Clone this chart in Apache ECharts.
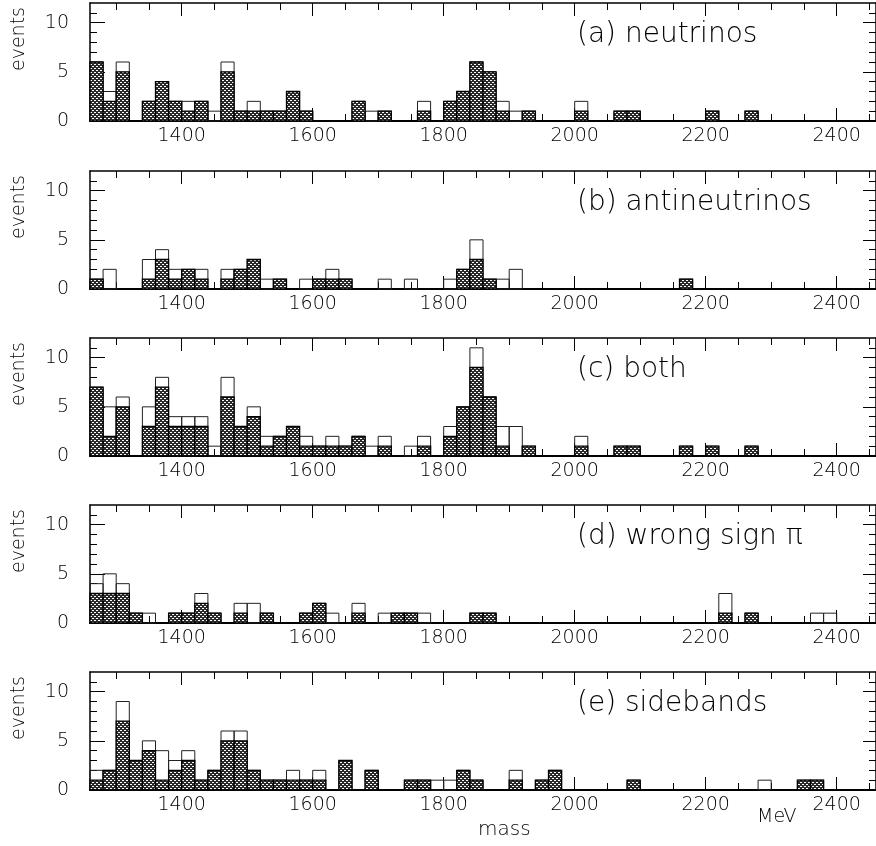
<!DOCTYPE html>
<html>
<head>
<meta charset="utf-8">
<script src="https://cdn.jsdelivr.net/npm/echarts@6/dist/echarts.min.js"></script>
<style>
  html, body { margin: 0; padding: 0; background: #fff; }
  #chart { width: 876px; height: 846px; }
</style>
</head>
<body>
<div id="chart"></div>
<script>
// bins: 20 MeV wide, starting at 1260 MeV (60 bins up to 2460)
const binStart = 1260;
const binWidth = 20;

const panelTitles = ['(a) neutrinos', '(b) antineutrinos', '(c) both', '(d) wrong sign π', '(e) sidebands'];

// hatched = filled part, total = open outline
const hatchA = [6,2,5,0,2,4,2,1,2,0, 5,1,1,1,1,3,1,0,0,0, 2,0,1,0,0,1,0,2,3,6, 5,1,0,1,0,0,0,1,0,0, 1,1,0,0,0,0,0,1,0,0, 1,0,0,0,0,0,0,0,0,0];
const totalA = [6,3,6,0,2,4,2,2,2,1, 6,1,2,1,1,3,1,0,0,0, 2,1,1,0,0,2,0,2,3,6, 5,2,1,1,0,0,0,2,0,0, 1,1,0,0,0,0,0,1,0,0, 1,0,0,0,0,0,0,0,0,0];

const hatchB = [1,0,0,0,1,3,1,2,1,0, 1,2,3,0,1,0,0,1,1,1, 0,0,0,0,0,0,0,0,2,3, 1,0,0,0,0,0,0,0,0,0, 0,0,0,0,0,1,0,0,0,0, 0,0,0,0,0,0,0,0,0,0];
const totalB = [1,2,0,0,3,4,2,2,2,0, 2,2,3,1,1,0,1,1,2,1, 0,0,1,0,1,0,0,1,2,5, 1,1,2,0,0,0,0,0,0,0, 0,0,0,0,0,1,0,0,0,0, 0,0,0,0,0,0,0,0,0,0];

const hatchC = [7,2,5,0,3,7,3,3,3,0, 6,3,4,1,2,3,1,1,1,1, 2,0,1,0,0,1,0,2,5,9, 6,1,0,1,0,0,0,1,0,0, 1,1,0,0,0,1,0,1,0,0, 1,0,0,0,0,0,0,0,0,0];
const totalC = [7,5,6,0,5,8,4,4,4,1, 8,3,5,2,2,3,2,1,2,1, 2,1,2,0,1,2,0,3,5,11, 6,3,3,1,0,0,0,2,0,0, 1,1,0,0,0,1,0,1,0,0, 1,0,0,0,0,0,0,0,0,0];

const hatchD = [3,3,3,1,0,0,1,1,2,1, 0,1,0,1,0,0,1,2,0,0, 1,0,0,1,1,0,0,0,0,1, 1,0,0,0,0,0,0,0,0,0, 0,0,0,0,0,0,0,0,1,0, 1,0,0,0,0,0,0,0,0,0];
const totalD = [4,5,4,1,1,0,1,1,3,1, 0,2,2,1,0,0,1,2,1,0, 2,0,1,1,1,1,0,0,0,1, 1,0,0,0,0,0,0,0,0,0, 0,0,0,0,0,0,0,0,3,0, 1,0,0,0,0,1,1,0,0,0];

const hatchE = [1,2,7,3,4,1,2,3,1,2, 5,5,2,1,1,1,1,1,0,3, 0,2,0,0,1,1,0,0,2,1, 0,0,1,0,1,2,0,0,0,0, 0,1,0,0,0,0,0,0,0,0, 0,0,0,0,1,1,0,0,0,0];
const totalE = [2,2,9,3,5,4,3,4,1,2, 6,6,2,1,1,2,1,2,0,3, 0,2,0,0,1,1,1,1,2,1, 0,0,2,0,1,2,0,0,0,0, 0,1,0,0,0,0,0,0,0,0, 0,1,0,0,1,1,0,0,0,0];

const hatched = [hatchA, hatchB, hatchC, hatchD, hatchE];
const totals = [totalA, totalB, totalC, totalD, totalE];

// tick positions
const xMajor = [1400, 1600, 1800, 2000, 2200, 2400];
const xMinor = [1300, 1350, 1450, 1500, 1550, 1650, 1700, 1750, 1850, 1900, 1950, 2050, 2100, 2150, 2250, 2300, 2350, 2450];
const yMajor = [0, 5, 10];
const yMinor = [1, 2, 3, 4, 6, 7, 8, 9, 11];

const panelTop = [3, 171, 338, 505, 672];
const panelHeight = 118;

const FONT = 'DejaVu Sans';

// diagonal cross-hatch, white dots on dark
function makeHatch() {
  const c = document.createElement('canvas');
  c.width = 4; c.height = 4;
  const g = c.getContext('2d');
  g.fillStyle = '#fff';
  g.fillRect(0, 0, 4, 4);
  g.fillStyle = '#2a2a2a';
  for (let x = 0; x < 4; x++) {
    for (let y = 0; y < 4; y++) {
      if ((x + y) % 4 < 2 || (x - y + 4) % 4 < 2) g.fillRect(x, y, 1, 1);
    }
  }
  return c;
}
const hatchPattern = { type: 'pattern', image: makeHatch(), repeat: 'repeat' };

const grids = [], xAxes = [], yAxes = [], series = [], texts = [];

function xAxis(p, pos, ticks, len, withLine, withLabel) {
  return {
    type: 'value', gridIndex: p, position: pos,
    min: binStart, max: binStart + binWidth * totalA.length,
    axisLine: { show: withLine, onZero: false, lineStyle: { color: '#000', width: pos === 'bottom' ? 2 : 1.5 } },
    axisTick: { show: true, inside: true, length: len, customValues: ticks, lineStyle: { color: '#000', width: 1 } },
    axisLabel: withLabel ? {
      show: true, customValues: xMajor, margin: 6, formatter: v => String(v),
      fontFamily: FONT, fontSize: 19, fontWeight: 200, color: '#000'
    } : { show: false },
    splitLine: { show: false }
  };
}

function yAxis(p, pos, ticks, len, withLine, withLabel) {
  return {
    type: 'value', gridIndex: p, position: pos, min: 0, max: 12,
    axisLine: { show: withLine, onZero: false, lineStyle: { color: '#000', width: 1.5 } },
    axisTick: { show: true, inside: true, length: len, customValues: ticks, lineStyle: { color: '#000', width: 1 } },
    axisLabel: withLabel ? {
      show: true, customValues: yMajor, margin: 21, formatter: v => String(v),
      fontFamily: FONT, fontSize: 19, fontWeight: 200, color: '#000'
    } : { show: false },
    splitLine: { show: false }
  };
}

function histItem(fill, stroke, lw) {
  return function (params, api) {
    const lo = api.value(0), v = api.value(1);
    if (!v) return null;
    const a = api.coord([lo, 0]);
    const b = api.coord([lo + binWidth, v]);
    return {
      type: 'rect',
      shape: { x: a[0], y: b[1], width: b[0] - a[0], height: a[1] - b[1] },
      style: { fill: fill, stroke: stroke, lineWidth: lw }
    };
  };
}

for (let p = 0; p < 5; p++) {
  grids.push({ left: 90, right: -2, top: panelTop[p], height: panelHeight });
  const xi = xAxes.length, yi = yAxes.length;
  xAxes.push(xAxis(p, 'bottom', xMajor, 13, true, true));
  xAxes.push(xAxis(p, 'bottom', xMinor, 7, false, false));
  xAxes.push(xAxis(p, 'top', xMajor, 13, true, false));
  xAxes.push(xAxis(p, 'top', xMinor, 7, false, false));
  yAxes.push(yAxis(p, 'left', yMajor, 15, true, true));
  yAxes.push(yAxis(p, 'left', yMinor, 7, false, false));
  yAxes.push(yAxis(p, 'right', [5, 10], 13, true, false));
  yAxes.push(yAxis(p, 'right', yMinor, 7, false, false));

  const tot = totals[p].map((v, i) => [binStart + i * binWidth, v]);
  const hat = hatched[p].map((v, i) => [binStart + i * binWidth, v]);
  series.push({
    type: 'custom', xAxisIndex: xi, yAxisIndex: yi, z: 2,
    renderItem: histItem('none', '#222', 1), data: tot, silent: true
  });
  series.push({
    type: 'custom', xAxisIndex: xi, yAxisIndex: yi, z: 3,
    renderItem: histItem(hatchPattern, '#000', 1.3), data: hat, silent: true
  });

  texts.push({
    type: 'text', x: 577, y: panelTop[p] + 32, silent: true,
    style: { text: panelTitles[p], fill: '#000', font: '200 28px "' + FONT + '"', align: 'left', verticalAlign: 'middle' }
  });
  texts.push({
    type: 'text', x: 19, y: panelTop[p] + 36, rotation: Math.PI / 2, silent: true,
    style: { text: 'events', fill: '#000', font: '200 19px "' + FONT + '"', align: 'center', verticalAlign: 'middle' }
  });
}

texts.push({
  type: 'text', x: 478, y: 830, silent: true,
  style: { text: 'mass', fill: '#000', font: '200 20px "' + FONT + '"', align: 'left', verticalAlign: 'middle' }
});
texts.push({
  type: 'text', x: 757, y: 817, silent: true,
  style: { text: 'MeV', fill: '#000', font: '200 19px "' + FONT + '"', align: 'left', verticalAlign: 'middle' }
});

const chart = echarts.init(document.getElementById('chart'));
chart.setOption({
  animation: false,
  backgroundColor: '#fff',
  grid: grids,
  xAxis: xAxes,
  yAxis: yAxes,
  series: series,
  graphic: texts
});
</script>
</body>
</html>
